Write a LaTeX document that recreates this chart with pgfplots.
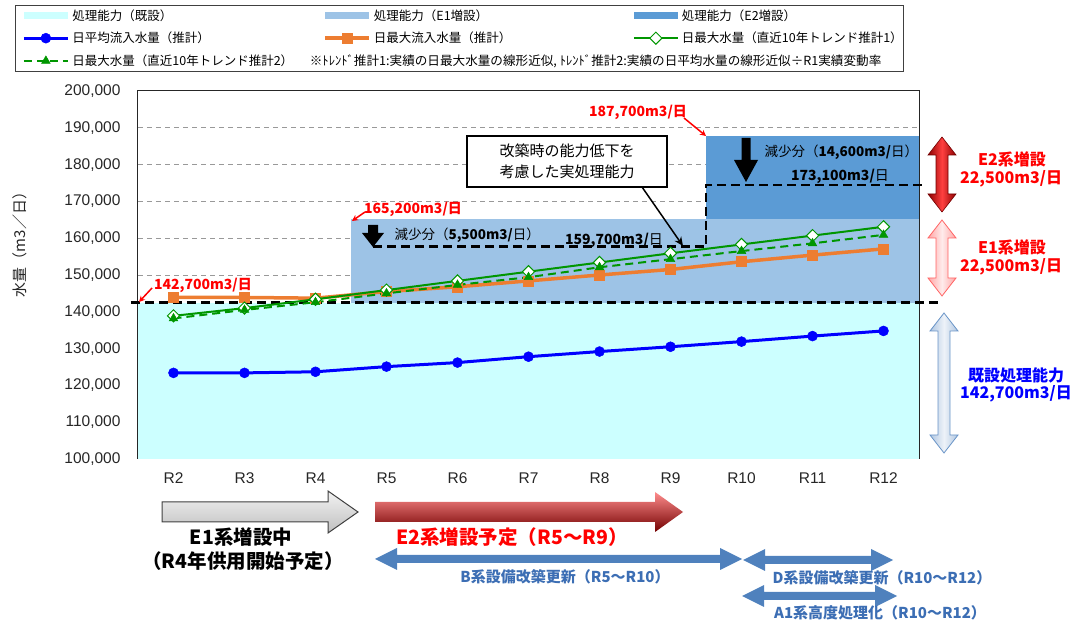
\documentclass[border=0pt]{standalone}
\usepackage{fontspec}
\setmainfont{Liberation Sans}
\newfontfamily\jp{Noto Sans CJK JP}
\usepackage{pgfplots}
\pgfplotsset{compat=1.18}
\usetikzlibrary{arrows.meta}

\definecolor{kisetsu}{RGB}{204,255,255}
\definecolor{eone}{RGB}{157,195,230}
\definecolor{etwo}{RGB}{91,155,213}
\definecolor{avgblue}{RGB}{0,0,255}
\definecolor{maxorange}{RGB}{237,125,49}
\definecolor{trendgreen}{RGB}{0,150,0}
\definecolor{arrowblue}{RGB}{79,129,189}
\definecolor{labelblue}{RGB}{60,110,180}

\pgfplotsset{
  areaimg/.style={legend image code/.code={\fill[##1] (0pt,-3.5pt) rectangle (44pt,3.5pt);}},
  lineimg/.style={legend image code/.code={\draw[mark repeat=2,mark phase=2,##1] plot coordinates {(0pt,0pt) (22pt,0pt) (44pt,0pt)};}},
}

% arrow shapes (picture coordinates, y down)
\newcommand{\vdarrow}[4]{(#1,#2) -- ({#1+#4},{#2+18}) -- ({#1+6},{#2+18}) -- ({#1+6},{#3-18}) -- ({#1+#4},{#3-18}) -- (#1,#3) -- ({#1-#4},{#3-18}) -- ({#1-6},{#3-18}) -- ({#1-6},{#2+18}) -- ({#1-#4},{#2+18}) -- cycle}
\newcommand{\hdarrow}[3]{(#1,#3) -- ({#1+22},{#3-11}) -- ({#1+22},{#3-4}) -- ({#2-22},{#3-4}) -- ({#2-22},{#3-11}) -- (#2,#3) -- ({#2-22},{#3+11}) -- ({#2-22},{#3+4}) -- ({#1+22},{#3+4}) -- ({#1+22},{#3+11}) -- cycle}
\newcommand{\dnarrow}[6]{({#1-#6},#2) -- ({#1+#6},#2) -- ({#1+#6},#3) -- ({#1+#5},#3) -- (#1,#4) -- ({#1-#5},#3) -- ({#1-#6},#3) -- cycle}

\begin{document}
\begin{tikzpicture}[x=1pt,y=1pt]
\path[use as bounding box] (0,0) rectangle (1074,621);

\begin{axis}[
  at={(138pt,162pt)}, anchor=south west,
  scale only axis, width=781pt, height=368pt,
  xmin=1.5, xmax=12.5, ymin=100000, ymax=200000,
  xtick={2,...,12},
  xticklabels={R2,R3,R4,R5,R6,R7,R8,R9,R10,R11,R12},
  ytick={100000,110000,...,200000},
  yticklabels={{100,000},{110,000},{120,000},{130,000},{140,000},{150,000},{160,000},{170,000},{180,000},{190,000},{200,000}},
  extra y ticks={110000,120000,...,190000},
  extra y tick labels={},
  extra y tick style={grid=major},
  scaled y ticks=false,
  tick label style={font=\fontsize{15.5}{18}\selectfont, text=black!85},
  yticklabel style={xshift=-14pt},
  xticklabel style={yshift=-10pt},
  major tick length=0pt,
  grid style={dash pattern=on 5pt off 4pt, black!40, line width=0.8pt},
  axis line style={black!85, line width=1pt},
  clip=false,
  legend columns=3,
  legend cell align=left,
  legend style={at={(-0.1575,1.2337)}, anchor=north west,
    draw=black!75, line width=0.8pt, fill=white,
    font=\jp\fontsize{12.5}{14}\selectfont,
    inner xsep=7pt, inner ysep=1pt,
    nodes={inner sep=3pt},
    /tikz/column sep=0pt, /tikz/row sep=4.5pt},
]
% capacity areas
\addplot[fill=kisetsu, draw=none, areaimg] coordinates {(1.5,100000) (12.5,100000) (12.5,142500) (1.5,142500)} -- cycle;
\addlegendentry{\makebox[248pt][l]{処理能力（既設）}}
\addplot[fill=eone, draw=none, areaimg] coordinates {(4.5,142500) (12.5,142500) (12.5,165200) (4.5,165200)} -- cycle;
\addlegendentry{\makebox[256pt][l]{処理能力（E1増設）}}
\addplot[fill=etwo, draw=none, areaimg] coordinates {(9.5,165200) (12.5,165200) (12.5,187700) (9.5,187700)} -- cycle;
\addlegendentry{\makebox[212pt][l]{処理能力（E2増設）}}

% capacity lines
\addplot[forget plot, black, line width=2.5pt, dash pattern=on 9pt off 5pt] coordinates {(1.40,142500) (12.82,142500)};
\addplot[forget plot, black, line width=2.5pt, dash pattern=on 9pt off 5pt] coordinates {(4.81,157700) (9.5,157700) (9.5,174500) (12.55,174500)};

% series
\addplot[avgblue, line width=3pt, mark=*, mark size=5pt, mark options={line width=0.5pt}, lineimg] coordinates {
 (2,123400) (3,123400) (4,123700) (5,125100) (6,126200) (7,127800) (8,129200) (9,130500) (10,131900) (11,133400) (12,134800)};
\addlegendentry{日平均流入水量（推計）}
\addplot[maxorange, line width=3.5pt, mark=square*, mark size=5pt, mark options={line width=0.5pt}, lineimg] coordinates {
 (2,143900) (3,143900) (4,143700) (5,145500) (6,146800) (7,148400) (8,150000) (9,151500) (10,153600) (11,155400) (12,157100)};
\addlegendentry{日最大流入水量（推計）}
\addplot[trendgreen, line width=2pt, mark=square*, mark size=4.3pt, mark options={rotate=45, fill=white, draw=trendgreen, line width=1pt, solid}, lineimg] coordinates {
 (2,138900) (3,141000) (4,143400) (5,145900) (6,148400) (7,150900) (8,153400) (9,155900) (10,158300) (11,160700) (12,163100)};
\addlegendentry{\makebox[212pt][l]{日最大水量（直近10年トレンド推計1）}}
\addplot[trendgreen, line width=2pt, dash pattern=on 8pt off 5pt, mark=triangle*, mark size=5pt, mark options={solid, fill=trendgreen, line width=0.5pt}, lineimg] coordinates {
 (2,138200) (3,140500) (4,142600) (5,145000) (6,147300) (7,149400) (8,152100) (9,154300) (10,156500) (11,158600) (12,160900)};
\addlegendentry{日最大水量（直近10年トレンド推計2）}
\addlegendimage{empty legend}
\addlegendentry{\makebox[0pt][l]{\hspace*{-64pt}\fontsize{12.6}{14}\selectfont ※ﾄﾚﾝﾄﾞ推計1:実績の日最大水量の線形近似, ﾄﾚﾝﾄﾞ推計2:実績の日平均水量の線形近似÷R1実績変動率}}
\end{axis}

\begin{scope}[shift={(0pt,621pt)}, y=-1pt]
% y label
\node[rotate=90, font=\jp\fontsize{15}{17}\selectfont, text=black!85] at (20,241) {水量（m3／日）};

% red capacity labels
\begin{scope}[font=\jp\bfseries\fontsize{14}{16}\selectfont, text=red]
\node at (203,285) {142,700m3/日};
\node at (413,209) {165,200m3/日};
\node at (638,112) {187,700m3/日};
\end{scope}
\draw[red, line width=1.5pt, -{Stealth[length=6pt,width=6pt]}] (152,288) -- (139,302);
\draw[red, line width=1.5pt, -{Stealth[length=6pt,width=6pt]}] (365,212) -- (352,221);
\draw[red, line width=1.5pt, -{Stealth[length=6pt,width=6pt]}] (684,118) -- (706,136);

% reductions
\fill[black] \dnarrow{373}{225}{233}{247}{11}{5};
\fill[black] \dnarrow{746}{138}{160}{182}{12}{4.5};
\node[anchor=west, font=\jp\fontsize{13.5}{15}\selectfont] at (391,235) {減少分（{\bfseries 5,500m3/}日）};
\node[anchor=west, font=\jp\fontsize{13.5}{15}\selectfont] at (761,152) {減少分（{\bfseries 14,600m3/}日）};
\node[font=\jp\fontsize{14}{16}\selectfont] at (614,240) {{\bfseries 159,700m3/}日};
\node[font=\jp\fontsize{14}{16}\selectfont] at (840,176) {{\bfseries 173,100m3/}日};

% callout
\node[draw=black, line width=1.2pt, fill=white, minimum width=200pt, minimum height=51pt, align=center, font=\jp\fontsize{15}{21}\selectfont] at (567,161.5) {改築時の能力低下を\\考慮した実処理能力};
\draw[black, line width=1.5pt, -{Stealth[length=9pt,width=8pt]}] (642,187) -- (683,246);

% right side arrows
\shade[left color=red!55!black, right color=red!55!black, middle color=red!75] \vdarrow{942}{137}{212}{14};
\draw[red!45!black, line width=0.6pt] \vdarrow{942}{137}{212}{14};
\shade[left color=red!35, right color=red!35, middle color=red!8] \vdarrow{942}{220}{296}{14};
\draw[red!60, line width=0.8pt] \vdarrow{942}{220}{296}{14};
\shade[left color=arrowblue!45, right color=arrowblue!45, middle color=arrowblue!10] \vdarrow{944}{313}{453}{14};
\draw[arrowblue!85, line width=0.8pt] \vdarrow{944}{313}{453}{14};

\begin{scope}[font=\jp\bfseries\fontsize{16}{18}\selectfont, text=red]
\node at (1012,159) {E2系増設};
\node at (1011,179) {22,500m3/日};
\node at (1012,247) {E1系増設};
\node at (1011,267) {22,500m3/日};
\end{scope}
\begin{scope}[font=\jp\bfseries\fontsize{16}{18}\selectfont, text=blue]
\node at (1016,375) {既設処理能力};
\node at (1016,394) {142,700m3/日};
\end{scope}

% schedule arrows
\shade[top color=black!5, bottom color=black!25] (162,502) -- (328,502) -- (328,491) -- (358,512) -- (328,533) -- (328,522) -- (162,522) -- cycle;
\draw[black!75, line width=1pt] (162,502) -- (328,502) -- (328,491) -- (358,512) -- (328,533) -- (328,522) -- (162,522) -- cycle;
\shade[top color=red!45, middle color=red!75!black, bottom color=red!45!black] (375,502) -- (655,502) -- (655,492) -- (683,512) -- (655,532) -- (655,522) -- (375,522) -- cycle;

\fill[arrowblue] \hdarrow{375}{742}{559};
\fill[arrowblue] \hdarrow{743}{893}{560};
\fill[arrowblue] \hdarrow{742}{897}{596};

\begin{scope}[font=\jp\bfseries\fontsize{19.5}{22}\selectfont]
\node at (241,537) {E1系増設中};
\node at (243,561) {（R4年供用開始予定）};
\node[text=red] at (512,537) {E2系増設予定（R5～R9）};
\end{scope}
\begin{scope}[font=\jp\bfseries\fontsize{15}{17}\selectfont, text=labelblue]
\node at (565,577) {B系設備改築更新（R5～R10）};
\node at (882,578) {D系設備改築更新（R10～R12）};
\node at (880,613) {A1系高度処理化（R10～R12）};
\end{scope}
\end{scope}
\end{tikzpicture}
\end{document}
